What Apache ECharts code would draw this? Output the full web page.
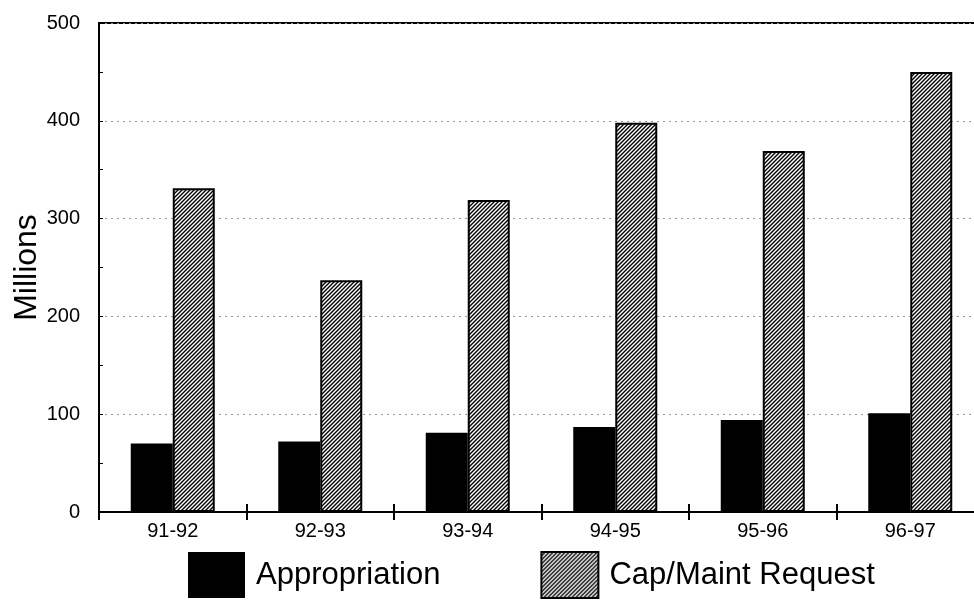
<!DOCTYPE html>
<html><head><meta charset="utf-8">
<script src="https://cdn.jsdelivr.net/npm/echarts@6/dist/echarts.min.js"></script>
<style>html,body{margin:0;padding:0;background:#fff}#c{width:974px;height:611px}</style>
</head><body><div id="c"></div>
<script>
const categories = ['91-92','92-93','93-94','94-95','95-96','96-97'];
const appropriation = [70, 72, 81, 87, 94, 101];
const capMaint = [331, 237, 319, 398, 369, 450];
const yTicks = [0, 100, 200, 300, 400, 500];

function hatch() {
  const s = 4;
  const c = document.createElement('canvas');
  c.width = s; c.height = s;
  const g = c.getContext('2d');
  g.fillStyle = '#fff'; g.fillRect(0, 0, s, s);
  g.strokeStyle = '#000'; g.lineWidth = 1.4;
  g.beginPath();
  g.moveTo(0, s); g.lineTo(s, 0);
  g.moveTo(-1, 1); g.lineTo(1, -1);
  g.moveTo(s - 1, s + 1); g.lineTo(s + 1, s - 1);
  g.stroke();
  return c;
}
const pat = { image: hatch(), repeat: 'repeat' };
const font = 'Liberation Sans, Arial, sans-serif';

const chart = echarts.init(document.getElementById('c'));
chart.setOption({
  animation: false,
  backgroundColor: '#fff',
  grid: { left: 99, top: 23, bottom: 99, width: 885, outerBoundsMode: 'none', containLabel: false,
    show: true, borderColor: '#000', borderWidth: 2, backgroundColor: 'transparent' },
  legend: {
    left: 183, top: 546, itemWidth: 57, itemHeight: 46, itemGap: 100, icon: 'rect',
    textStyle: { fontFamily: font, fontSize: 31, color: '#000', padding: [0, 0, 0, 6] },
    data: ['Appropriation', 'Cap/Maint Request']
  },
  xAxis: [{
    type: 'category', data: categories,
    axisLine: { lineStyle: { color: '#000', width: 2 } },
    axisTick: { show: true, length: 8, lineStyle: { color: '#000', width: 2 } },
    axisLabel: { fontFamily: font, fontSize: 20, color: '#000', margin: 9 }
  }, {
    type: 'category', data: categories, position: 'bottom', offset: 0,
    axisLine: { show: false },
    axisTick: { show: true, inside: true, length: 8, lineStyle: { color: '#000', width: 2 } },
    axisLabel: { show: false }, splitLine: { show: false }
  }],
  yAxis: {
    type: 'value', min: 0, max: 500, interval: 100,
    name: 'Millions', nameLocation: 'middle', nameGap: 56, nameRotate: 90, nameMoveOverlap: false,
    nameTextStyle: { fontFamily: font, fontSize: 32, color: '#000' },
    axisLine: { show: true, lineStyle: { color: '#000', width: 2 } },
    axisTick: { show: true, inside: true, length: 4, lineStyle: { color: '#000' } },
    minorTick: { show: true, splitNumber: 2, length: 4, lineStyle: { color: '#000' } },
    axisLabel: { fontFamily: font, fontSize: 20, color: '#000', margin: 19,
      formatter: v => yTicks.includes(v) ? String(v) : '' },
    splitLine: { show: true, lineStyle: { color: '#999', type: [2, 4], width: 1 } }
  },
  series: [
    { name: 'Appropriation', type: 'bar', data: appropriation, barWidth: 42, barGap: '0%',
      itemStyle: { color: '#000' } },
    { name: 'Cap/Maint Request', type: 'bar', data: capMaint, barWidth: 42,
      itemStyle: { color: pat, borderColor: '#000', borderWidth: 2 } }
  ]
});
</script></body></html>
